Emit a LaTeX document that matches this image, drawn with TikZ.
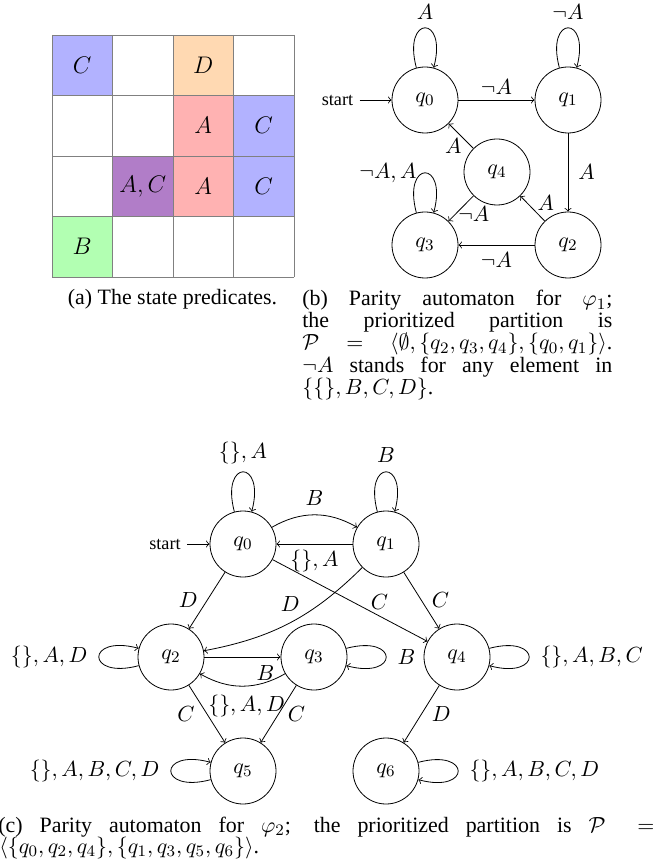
\documentclass[tikz,border=0pt]{standalone}
\usepackage[no-math]{fontspec}
\setmainfont{Liberation Serif}
\newcommand{\grfont}{\fontsize{10.8}{12}\selectfont}
\newcommand{\stfont}{\fontsize{10.95}{12}\selectfont}
\newcommand{\capfont}{\fontsize{10.95}{11}\selectfont}
\newcommand{\cellfont}{\fontsize{12.5}{14}\selectfont}
\newcommand{\startfont}{\fontsize{9.1}{10}\selectfont}
\definecolor{ccol}{rgb}{0.70,0.70,1.00}
\definecolor{dcol}{rgb}{1.00,0.85,0.70}
\definecolor{acol}{rgb}{1.00,0.70,0.70}
\definecolor{bcol}{rgb}{0.70,1.00,0.70}
\definecolor{accol}{RGB}{177,125,200}
\begin{document}
\begin{tikzpicture}[x=0.5pt,y=-0.5pt,>=to,
  st/.style={circle,draw,minimum size=33pt,inner sep=0pt,font=\stfont},
  lb/.style={font=\grfont,inner sep=3pt},
  captxt/.style={font=\capfont,inner sep=0pt},
  startlbl/.style={font=\startfont,inner sep=3pt},
  cellt/.style={font=\cellfont,inner sep=0pt},
  gridc/.style={draw=gray,line width=0.4pt},
  lpa/.style={out=105,in=75,distance=27.5pt},
  lpl/.style={out=195,in=165,distance=27.5pt},
  lpr/.style={out=15,in=-15,distance=27.5pt}]
\useasboundingbox (0,0) rectangle (658,865);

% ---------- (a) grid ----------
\foreach \i/\j/\c/\t in {0/0/ccol/C, 2/0/dcol/D, 2/1/acol/A, 3/1/ccol/C, 1/2/accol/{A,C}, 2/2/acol/A, 3/2/ccol/C, 0/3/bcol/B}{
  \fill[\c] (52+\i*60.5,35+\j*60.5) rectangle +(60.5,60.5);
  \node[cellt] (cell\i\j) at (82.25+\i*60.5,65.25+\j*60.5) {$\t$};
}
\foreach \k in {0,...,4}{
  \draw[gridc] (52+\k*60.5,35) -- (52+\k*60.5,277);
  \draw[gridc] (52,35+\k*60.5) -- (294,35+\k*60.5);
}
\node[captxt,anchor=base] (capa) at (172.5,305) {(a) The state predicates.};

% ---------- (b) automaton ----------
\node[st] (bq0) at (425,100) {$q_0$};
\node[st] (bq1) at (568,100) {$q_1$};
\node[st] (bq4) at (497,172) {$q_4$};
\node[st] (bq3) at (425,245) {$q_3$};
\node[st] (bq2) at (568,245) {$q_2$};
\node[startlbl] (bs) at (337.5,100) {start};
\draw[->] (bs) -- (bq0);
\draw[->] (bq0) to[lpa] node[lb,above=1pt] (bl0) {$A$} (bq0);
\draw[->] (bq1) to[lpa] node[lb,above=1pt] (bl1) {$\neg A$} (bq1);
\draw[->] (bq3) to[lpa] node[lb,left=1pt] (bl3) {$\neg A, A$} (bq3);
\draw[->] (bq0) -- node[lb,above,inner sep=2.5pt] (be01) {$\neg A$} (bq1);
\draw[->] (bq1) -- node[lb,right=2pt] (be12) {$A$} (bq2);
\draw[->] (bq2) -- node[lb,below=0.5pt] (be23) {$\neg A$} (bq3);
\draw[->] (bq4) -- node[lb,pos=0.1,left=1.5pt] (be40) {$A$} (bq0);
\draw[->] (bq4) -- node[lb,pos=0.7,anchor=west,inner sep=1pt] (be43) {$\neg A$} (bq3);
\draw[->] (bq2) -- node[lb,pos=0.72,right=2pt] (be24) {$A$} (bq4);

\node[captxt,anchor=base west] (capb1) at (302,306) {\makebox[155pt][s]{(b) Parity automaton for $\varphi_1$;}};
\node[captxt,anchor=base west] (capb2) at (302,328) {\makebox[155pt][s]{the prioritized partition is}};
\node[captxt,anchor=base west] (capb3) at (302,350) {\makebox[155pt][s]{$\mathcal{P} = \langle\emptyset, \{q_2,q_3,q_4\}, \{q_0,q_1\}\rangle$.}};
\node[captxt,anchor=base west] (capb4) at (302,372) {\makebox[155pt][s]{$\neg A$ stands for any element in}};
\node[captxt,anchor=base west] (capb5) at (302,394) {$\{\{\}, B, C, D\}$.};

% ---------- (c) automaton ----------
\node[st] (q0) at (243,544) {$q_0$};
\node[st] (q1) at (386,544) {$q_1$};
\node[st] (q2) at (171,657) {$q_2$};
\node[st] (q3) at (314,657) {$q_3$};
\node[st] (q4) at (457,657) {$q_4$};
\node[st] (q5) at (243,771) {$q_5$};
\node[st] (q6) at (386,771) {$q_6$};
\node[startlbl] (cs) at (165,544) {start};
\draw[->] (cs) -- (q0);
\draw[->] (q0) to[lpa] node[lb,above=1pt] (cl0) {$\{\}, A$} (q0);
\draw[->] (q1) to[lpa] node[lb,above=1.5pt] (cl1) {$B$} (q1);
\draw[->] (q2) to[lpl] node[lb,left=2.5pt] (cl2) {$\{\}, A, D$} (q2);
\draw[->] (q3) to[lpr] node[lb,right=2.5pt] (cl3) {$B$} (q3);
\draw[->] (q4) to[lpr] node[lb,right=2.5pt] (cl4) {$\{\}, A, B, C$} (q4);
\draw[->] (q5) to[lpl] node[lb,left=2.5pt] (cl5) {$\{\}, A, B, C, D$} (q5);
\draw[->] (q6) to[lpr] node[lb,right=2.5pt] (cl6) {$\{\}, A, B, C, D$} (q6);

\draw[->] (q0) to[bend left=30] node[lb,above=1.5pt] (ce01) {$B$} (q1);
\draw[->] (q1) -- node[lb,below] (ce10) {$\{\}, A$} (q0);
\draw[->] (q0) -- node[lb,left=1.5pt] (ce02) {$D$} (q2);
\draw[->] (q1) to[bend left=17] node[lb,above=2.5pt] (ce12) {$D$} (q2);
\draw[->] (q0) -- node[lb,pos=0.69,above] (ce04) {$C$} (q4);
\draw[->] (q1) -- node[lb,right=2pt] (ce14) {$C$} (q4);
\draw[->] (q2) -- (q3);
\draw[->] (q3) to[bend left=30] node[lb,pos=0.23,above,inner sep=1pt] (ce32) {$B$} (q2);
\draw[->] (q2) -- node[lb,left=3pt] (ce25) {$C$} node[lb,pos=0.36,right] (ce25b) {$\{\}, A, D$} (q5);
\draw[->] (q3) -- node[lb,right=1.5pt] (ce35) {$C$} (q5);
\draw[->] (q4) -- node[lb,right=2pt] (ce46) {$D$} (q6);

\node[captxt,anchor=base west] (capc1) at (-2,832) {\makebox[328pt][s]{(c) Parity automaton for $\varphi_2$; the prioritized partition is $\mathcal{P} =$}};
\node[captxt,anchor=base west] (capc2) at (-1,853) {$\langle\{q_0,q_2,q_4\},\{q_1,q_3,q_5,q_6\}\rangle$.};
\end{tikzpicture}
\end{document}
